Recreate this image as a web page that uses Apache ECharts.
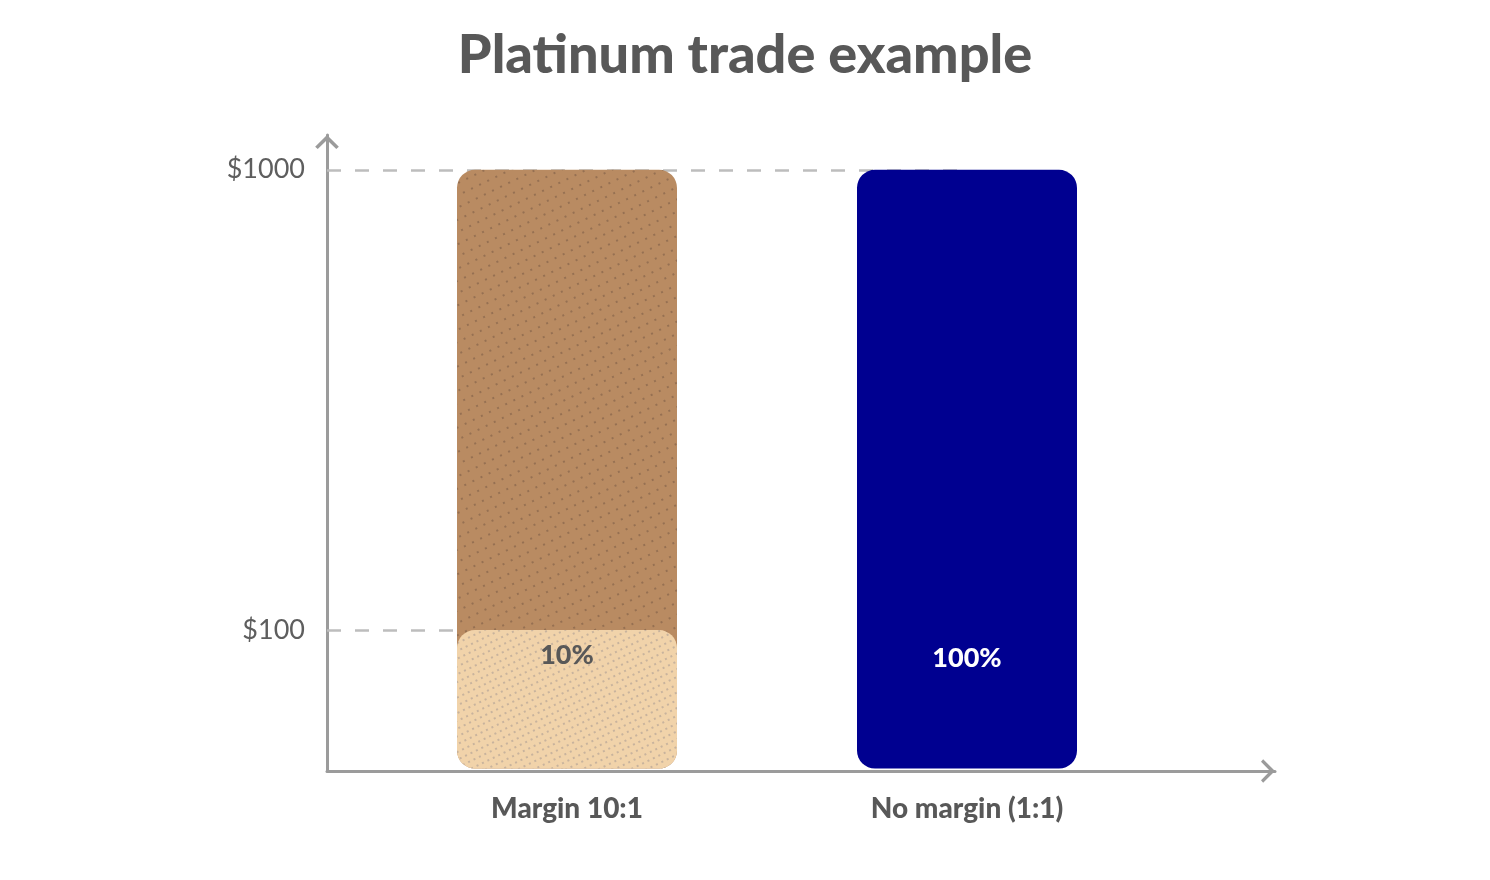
<!DOCTYPE html>
<html>
<head>
<meta charset="utf-8">
<title>Platinum trade example</title>
<script src="https://cdn.jsdelivr.net/npm/echarts@6/dist/echarts.min.js"></script>
<style>
    html, body { margin: 0; padding: 0; background: #ffffff; }
    #main { width: 1490px; height: 880px; }
</style>
</head>
<body>
<div id="main"></div>
<script>
// data
var categories = ['Margin 10:1', 'No margin (1:1)'];
var categoryPos = [0, 1];
var positionSize = [1000, 1000];   // full exposure of each trade ($)
var ownFunds = [100, 1000];        // money put up by the trader ($)
var fundLabels = ['10%', '100%'];
var yTicks = [100, 1000];

var myChart;

// open chevron used for the axis ends (points up, ECharts rotates it)
var chevron = 'path://M0,11 L11,0 L22,11 L19.6,13 L11,4.6 L2.4,13 Z';

document.addEventListener("DOMContentLoaded", function()
{
    var chartDom = document.getElementById('main');
    myChart = echarts.init(chartDom, null, { renderer: 'canvas' });

    var axisGrey = '#9b9b9b';
    var textGrey = '#585858';

    var option = {
        backgroundColor: '#ffffff',
        animation: false,
        title: {
            text: 'Platinum trade example',
            left: 'center',
            top: 24,
            textStyle: {
                fontFamily: 'Lato',
                fontWeight: 900,
                fontSize: 54,
                color: textGrey
            }
        },
        grid: {
            left: 327,
            right: 215,
            top: 135,
            bottom: 109
        },
        xAxis: {
            type: 'value',
            min: -0.6,
            max: 1.77,
            splitLine: { show: false },
            axisTick: { show: false },
            axisLine: {
                show: true,
                onZero: false,
                symbol: ['none', chevron],
                symbolSize: [24, 14],
                symbolOffset: [0, -7],
                lineStyle: { color: axisGrey, width: 3 }
            },
            axisLabel: {
                customValues: categoryPos,
                formatter: function (v) { return categories[categoryPos.indexOf(v)] || ''; },
                margin: 24,
                fontFamily: 'Lato',
                fontWeight: 900,
                fontSize: 28,
                color: textGrey
            }
        },
        yAxis: {
            type: 'log',
            min: 49.4,
            max: 1190,
            startValue: 50,
            splitLine: { show: false },
            axisTick: { show: false },
            axisLine: {
                show: true,
                onZero: false,
                symbol: ['none', chevron],
                symbolSize: [24, 14],
                symbolOffset: [0, -7],
                lineStyle: { color: axisGrey, width: 3 }
            },
            axisLabel: {
                showMinLabel: false,
                showMaxLabel: false,
                formatter: function (v) { return yTicks.indexOf(v) >= 0 ? '$' + v : ''; },
                margin: 22,
                fontFamily: 'Lato',
                fontSize: 27,
                color: '#5e5e5e'
            }
        },
        series: [
            {
                name: 'Position (margin)',
                type: 'bar',
                barWidth: 220,
                barGap: '-100%',
                z: 2,
                data: [[categoryPos[0], positionSize[0]]],
                itemStyle: {
                    color: '#b98b62',
                    borderRadius: 18,
                    decal: {
                        symbol: 'circle',
                        symbolSize: 1,
                        dashArrayX: [1.6, 7],
                        dashArrayY: [1.6, 9],
                        rotation: -0.45,
                        color: 'rgba(80, 60, 50, 0.45)'
                    }
                },
                markLine: {
                    silent: true,
                    z: 1,
                    symbol: 'none',
                    label: { show: false },
                    lineStyle: { color: '#bdbdbd', width: 2.5, type: [14, 14] },
                    data: [
                        [{ coord: [-0.6, yTicks[1]] }, { coord: [categoryPos[1], yTicks[1]] }],
                        [{ coord: [-0.6, yTicks[0]] }, { coord: [categoryPos[0], yTicks[0]] }]
                    ]
                }
            },
            {
                name: 'Own funds (margin)',
                type: 'bar',
                barWidth: 220,
                barGap: '-100%',
                z: 3,
                data: [[categoryPos[0], ownFunds[0]]],
                itemStyle: {
                    color: '#f1d3aa',
                    borderRadius: 18,
                    decal: {
                        symbol: 'circle',
                        symbolSize: 1,
                        dashArrayX: [1.5, 4],
                        dashArrayY: [1.5, 5],
                        rotation: -0.45,
                        color: 'rgba(120, 115, 130, 0.45)'
                    }
                },
                label: {
                    show: true,
                    position: 'insideTop',
                    distance: 12,
                    formatter: fundLabels[0],
                    fontFamily: 'Lato',
                    fontWeight: 900,
                    fontSize: 27,
                    color: textGrey
                }
            },
            {
                name: 'No margin',
                type: 'bar',
                barWidth: 220,
                barGap: '-100%',
                z: 2,
                data: [[categoryPos[1], ownFunds[1]]],
                itemStyle: {
                    color: '#000090',
                    borderRadius: 18
                },
                label: {
                    show: true,
                    position: 'insideBottom',
                    distance: 97,
                    formatter: fundLabels[1],
                    fontFamily: 'Lato',
                    fontWeight: 900,
                    fontSize: 27,
                    color: '#ffffff'
                }
            }
        ]
    };

    myChart.setOption(option);

    window.addEventListener('resize', myChart.resize);
});
</script>
</body>
</html>
